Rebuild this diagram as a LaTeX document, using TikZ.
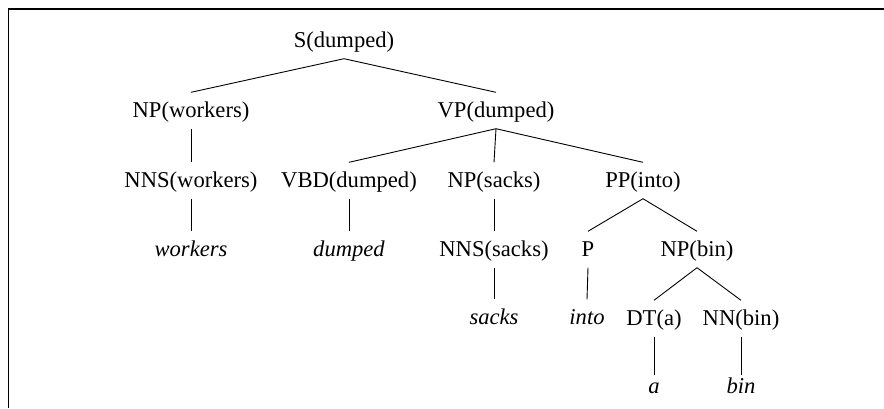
\documentclass[tikz,border=0pt]{standalone}
\usepackage{fontspec}
\setmainfont{Liberation Serif}
\begin{document}
\begin{tikzpicture}
        [x=1pt, y=-1pt,
        cat/.style={anchor=base, inner xsep=2pt, inner ysep=6.5pt, text height=18pt, text depth=5pt, font=\fontsize{22.6}{27}\selectfont},
        word/.style={cat, font=\fontsize{22.6}{27}\selectfont\itshape},
        edge/.style={line width=0.9pt}]
                \useasboundingbox (0,0) rectangle (884,408);
                \draw[line width=1.6pt] (8.5,408) |- (884,9);

                \node[cat] (S) at (344,47) {S(dumped)};
                \node[cat] (NPw) at (191,117) {NP(workers)};
                \node[cat] (VP) at (496,117) {VP(dumped)};
                \node[cat] (NNSw) at (191,187) {NNS(workers)};
                \node[cat] (VBD) at (349,187) {VBD(dumped)};
                \node[cat] (NPs) at (494,187) {NP(sacks)};
                \node[cat] (PP) at (643,187) {PP(into)};
                \node[word] (w1) at (191,256) {workers};
                \node[word] (w2) at (349,256) {dumped};
                \node[cat] (NNSs) at (494,256) {NNS(sacks)};
                \node[cat] (P) at (588,256) {P};
                \node[cat] (NPb) at (697,256) {NP(bin)};
                \node[word] (w3) at (494,324) {sacks};
                \node[word] (w4) at (587,324) {into};
                \node[cat] (DT) at (654,325) {DT(a)};
                \node[cat] (NN) at (741,325) {NN(bin)};
                \node[word, text height=11.5pt] (w5) at (654,393) {a};
                \node[word, text height=11.5pt] (w6) at (741,393) {bin};

                \draw[edge] (S.south) -- (NPw.north);
                \draw[edge] (S.south) -- (VP.north);
                \draw[edge] (NPw.south) -- (NNSw.north);
                \draw[edge] (VP.south) -- (VBD.north);
                \draw[edge] (VP.south) -- (NPs.north);
                \draw[edge] (VP.south) -- (PP.north);
                \draw[edge] (NNSw.south) -- (w1.north);
                \draw[edge] (VBD.south) -- (w2.north);
                \draw[edge] (NPs.south) -- (NNSs.north);
                \draw[edge] (PP.south) -- (P.north);
                \draw[edge] (PP.south) -- (NPb.north);
                \draw[edge] (NNSs.south) -- (w3.north);
                \draw[edge] (P.south) -- (w4.north);
                \draw[edge] (NPb.south) -- (DT.north);
                \draw[edge] (NPb.south) -- (NN.north);
                \draw[edge] (DT.south) -- (w5.north);
                \draw[edge] (NN.south) -- (w6.north);
            \end{tikzpicture}
\end{document}
